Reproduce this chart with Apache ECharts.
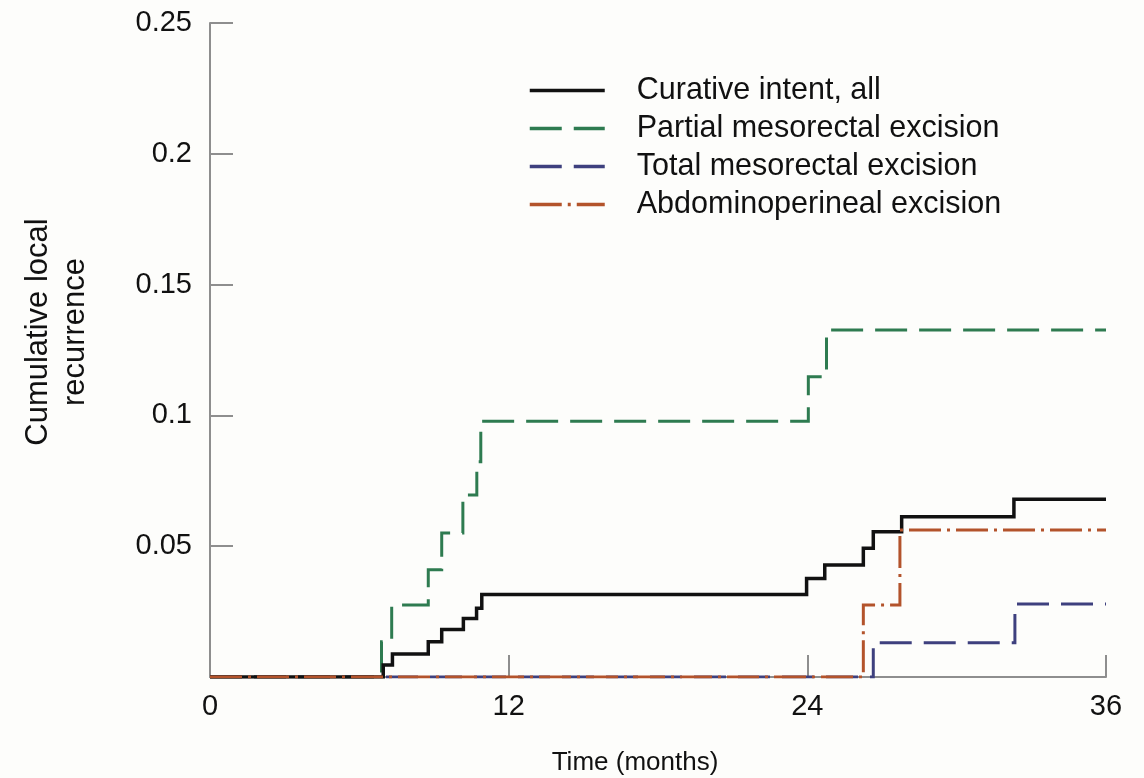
<!DOCTYPE html>
<html>
<head>
<meta charset="utf-8">
<script src="https://cdn.jsdelivr.net/npm/echarts@6/dist/echarts.min.js"></script>
<style>
  html, body { margin: 0; padding: 0; background: #fdfdfb; }
  #chart { width: 1144px; height: 778px; }
</style>
</head>
<body>
<div id="chart"></div>
<script>
// Step points: [time in months, cumulative local recurrence] at each jump
const curativeAll = [[0,0],[6.96,0.0046],[7.33,0.0088],[8.77,0.0135],[9.31,0.0182],[10.18,0.0224],[10.71,0.0263],[10.92,0.0315],[23.97,0.0377],[24.7,0.0428],[26.25,0.0492],[26.65,0.0555],[27.79,0.0613],[32.3,0.0679],[36,0.0679]];
const partialME = [[0,0],[6.89,0.0135],[7.3,0.0275],[8.77,0.041],[9.31,0.055],[10.16,0.0696],[10.72,0.0823],[10.88,0.0978],[24.04,0.1148],[24.77,0.1326],[36,0.1326]];
const totalME = [[0,0],[26.65,0.0131],[32.34,0.0279],[36,0.0279]];
const abdominoperineal = [[0,0],[26.25,0.0275],[27.72,0.0562],[36,0.0562]];

const seriesNames = ['Curative intent, all','Partial mesorectal excision','Total mesorectal excision','Abdominoperineal excision'];
const xTicks = [0, 12, 24, 36];
const yTickLabels = ['', '0.05', '0.1', '0.15', '0.2', '0.25'];
const xTitle = 'Time (months)';
const yTitle = 'Cumulative local\nrecurrence';

const FONT = '"Liberation Sans", Arial, Helvetica, sans-serif';
const axisGray = '#8e8e8e';

const chart = echarts.init(document.getElementById('chart'), null, { renderer: 'canvas' });

function mk(name, data, color, width, type, z) {
  return {
    name: name, type: 'line', step: 'end', data: data,
    symbol: 'none', showSymbol: false, z: z, animation: false,
    itemStyle: { color: 'rgba(0,0,0,0)', borderWidth: 0, borderColor: 'rgba(0,0,0,0)' },
    lineStyle: { color: color, width: width, type: type, cap: 'butt', join: 'miter' }
  };
}

chart.setOption({
  backgroundColor: '#fdfdfb',
  animation: false,
  grid: { left: 210, right: 38, top: 23, bottom: 101, containLabel: false },
  xAxis: {
    type: 'value', min: 0, max: 36, interval: 12,
    axisLine: { show: true, lineStyle: { color: axisGray, width: 2 } },
    axisTick: { show: true, inside: true, length: 22, lineStyle: { color: axisGray, width: 2 } },
    axisLabel: { color: '#111', fontFamily: FONT, fontSize: 29, margin: 15,
      formatter: v => (xTicks.indexOf(v) >= 0 ? String(v) : '') },
    splitLine: { show: false }
  },
  yAxis: {
    type: 'value', min: 0, max: 0.25, interval: 0.05,
    axisLine: { show: true, lineStyle: { color: axisGray, width: 2 } },
    axisTick: { show: true, inside: true, length: 23, lineStyle: { color: axisGray, width: 2 } },
    axisLabel: { color: '#111', fontFamily: FONT, fontSize: 29, margin: 18,
      formatter: v => yTickLabels[Math.round(v / 0.05)] || '' },
    splitLine: { show: false }
  },
  legend: {
    orient: 'vertical', left: 523, top: 70, itemWidth: 75, itemHeight: 14, itemGap: 7,
    lineStyle: { width: 3.5 },
    textStyle: { color: '#111', fontFamily: FONT, fontSize: 30.5, lineHeight: 30, padding: [0, 0, 0, 27] },
    data: seriesNames
  },
  graphic: [
    { type: 'text', x: 635, y: 763, silent: true,
      style: { text: xTitle, font: '26px ' + FONT, fill: '#111', align: 'center', verticalAlign: 'middle' } },
    { type: 'text', x: 57, y: 332, rotation: Math.PI / 2, silent: true,
      style: { text: yTitle, font: '31px ' + FONT, fill: '#111', align: 'center', verticalAlign: 'middle', lineHeight: 37 } }
  ],
  series: [
    mk(seriesNames[1], partialME, '#2e7b50', 3, [32, 12], 3),
    mk(seriesNames[2], totalME, '#3e407e', 3, [32, 12], 4),
    mk(seriesNames[0], curativeAll, '#111111', 3.5, 'solid', 5),
    mk(seriesNames[3], abdominoperineal, '#b3532b', 3, [32, 6, 3, 6], 6)
  ]
});
</script>
</body>
</html>
